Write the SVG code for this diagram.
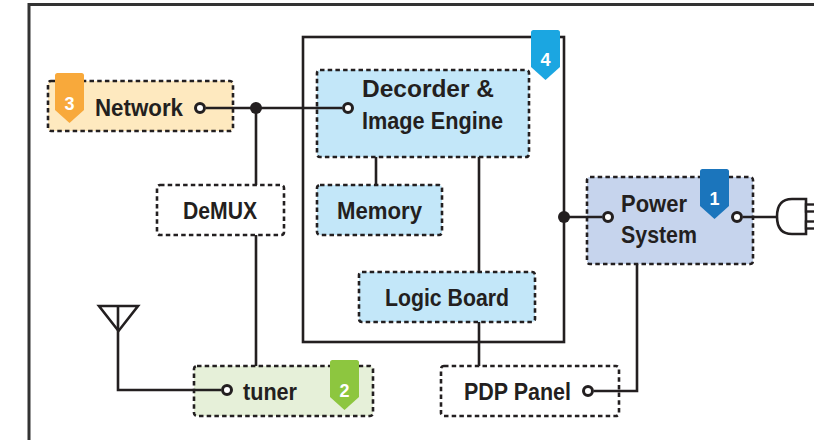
<svg xmlns="http://www.w3.org/2000/svg" width="814" height="440" viewBox="0 0 814 440">
<defs>
<style>
.box{stroke:#231f20;stroke-width:2.6;stroke-dasharray:4.5 3.2}
.t{font-family:"Liberation Sans",Arial,sans-serif;font-weight:bold;font-size:24px;fill:#231f20}
.n{font-family:"Liberation Sans",Arial,sans-serif;font-weight:bold;font-size:18px;fill:#fff;text-anchor:middle}
.ln{fill:none;stroke:#231f20;stroke-width:2.6}
.port{fill:#fff;stroke:#231f20;stroke-width:3}
.dot{fill:#231f20}
</style>
<path id="badge" d="M0,2.5 Q0,0 2.5,0 H26.5 Q29,0 29,2.5 V37 L14.5,50 L0,37 Z"/>
</defs>
<rect width="814" height="440" fill="#fff"/>
<!-- outer frame -->
<path d="M29,442 V4.5 H820" fill="none" stroke="#333" stroke-width="3"/>
<!-- inner container -->
<rect x="303" y="37" width="261" height="305" fill="none" stroke="#231f20" stroke-width="2.6"/>

<g id="network">
<rect class="box" x="48" y="81" width="185" height="50" rx="3" fill="#fee9bf"/>
<use href="#badge" x="55" y="73" fill="#f8a93b"/>
<text class="n" x="69.5" y="110">3</text>
<text class="t" x="95" y="116" textLength="88" lengthAdjust="spacingAndGlyphs">Network</text>
<circle class="port" cx="200" cy="108" r="4.5"/>
</g>

<g id="decoder">
<rect class="box" x="317" y="70" width="212" height="87" rx="3" fill="#c3e7f9"/>
<text class="t" x="362" y="97" textLength="132" lengthAdjust="spacingAndGlyphs">Decorder &amp;</text>
<text class="t" x="362" y="129" textLength="141" lengthAdjust="spacingAndGlyphs">Image Engine</text>
<circle class="port" cx="348" cy="108" r="4.5"/>
</g>

<g id="badge4">
<use href="#badge" x="531" y="30" fill="#1ba6e1"/>
<text class="n" x="545.5" y="66">4</text>
</g>

<g id="memory">
<rect class="box" x="317" y="185" width="125" height="50" rx="3" fill="#c3e7f9"/>
<text class="t" x="337" y="219" textLength="85" lengthAdjust="spacingAndGlyphs">Memory</text>
</g>

<g id="demux">
<rect class="box" x="157" y="185" width="127" height="50" rx="3" fill="#fff"/>
<text class="t" x="183" y="219" textLength="74" lengthAdjust="spacingAndGlyphs">DeMUX</text>
</g>

<g id="logic">
<rect class="box" x="359" y="272" width="176" height="50" rx="3" fill="#c3e7f9"/>
<text class="t" x="385" y="306" textLength="124" lengthAdjust="spacingAndGlyphs">Logic Board</text>
</g>

<g id="power">
<rect class="box" x="587" y="177" width="166" height="87" rx="3" fill="#c6d4ed"/>
<use href="#badge" x="700" y="169" fill="#1b75bc"/>
<text class="n" x="714.5" y="205">1</text>
<text class="t" x="621" y="212" textLength="66" lengthAdjust="spacingAndGlyphs">Power</text>
<text class="t" x="621" y="243" textLength="76" lengthAdjust="spacingAndGlyphs">System</text>
<circle class="port" cx="608" cy="217" r="4.5"/>
<circle class="port" cx="737" cy="217" r="4.5"/>
</g>

<g id="tuner">
<rect class="box" x="194" y="366" width="179" height="50" rx="3" fill="#e6f0d9"/>
<use href="#badge" x="330" y="360" fill="#8dc63f"/>
<text class="n" x="344.5" y="397">2</text>
<text class="t" x="243" y="400" textLength="54" lengthAdjust="spacingAndGlyphs">tuner</text>
<circle class="port" cx="227" cy="390" r="4.5"/>
</g>

<g id="pdp">
<rect class="box" x="441" y="366" width="178" height="50" rx="3" fill="#fff"/>
<text class="t" x="464" y="400" textLength="107" lengthAdjust="spacingAndGlyphs">PDP Panel</text>
<circle class="port" cx="588" cy="391" r="4.5"/>
</g>

<g id="connectors">
<path class="ln" d="M206,108 H342"/>
<path class="ln" d="M256,108 V185 M256,235 V366"/>
<path class="ln" d="M376,157 V185"/>
<path class="ln" d="M479,157 V272 M479,322 V366"/>
<path class="ln" d="M564,217 H602"/>
<path class="ln" d="M743,217 H777"/>
<path class="ln" d="M594,391 H637 V264"/>
<path class="ln" d="M118,306 V390 H221"/>
<circle class="dot" cx="256" cy="108" r="6"/>
<circle class="dot" cx="564" cy="217" r="6"/>
</g>

<g id="antenna">
<path d="M99,306 H138 L118.5,331 Z" fill="none" stroke="#231f20" stroke-width="2.6"/>
</g>

<g id="plug">
<path d="M806,199 H792 Q777,199 777,216.5 Q777,234 792,234 H806 Z" fill="#fff" stroke="#231f20" stroke-width="2.6"/>
<rect x="806" y="204.5" width="12" height="7" fill="#fff" stroke="#231f20" stroke-width="2.4"/>
<rect x="806" y="221.5" width="12" height="7" fill="#fff" stroke="#231f20" stroke-width="2.4"/>
</g>
</svg>
